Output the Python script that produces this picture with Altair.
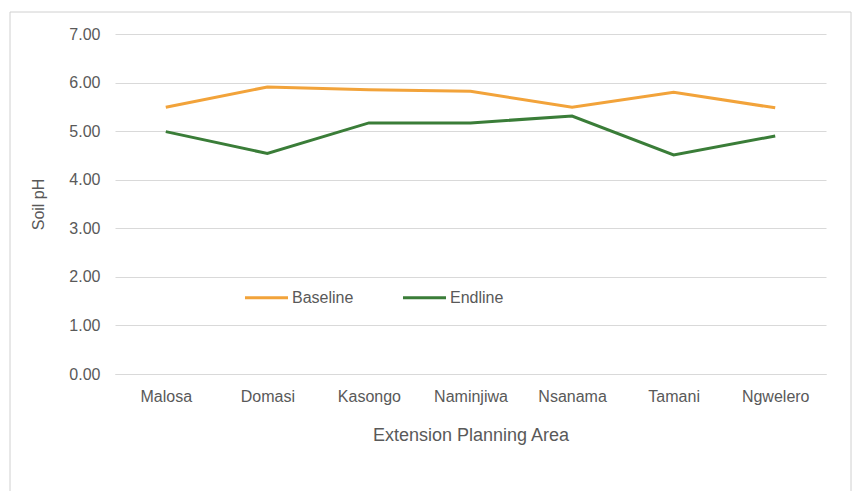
import altair as alt
import pandas as pd

areas = ["Malosa", "Domasi", "Kasongo", "Naminjiwa", "Nsanama", "Tamani", "Ngwelero"]
baseline = [5.49, 5.91, 5.85, 5.82, 5.49, 5.80, 5.48]
endline = [4.99, 4.54, 5.17, 5.17, 5.31, 4.51, 4.90]
series = ["Baseline", "Endline"]
colors = ["#F2A33A", "#3A7D38"]
y_ticks = [0, 1, 2, 3, 4, 5, 6, 7]

rows = []
for a, b, e in zip(areas, baseline, endline):
    rows.append({"area": a, "series": "Baseline", "ph": b})
    rows.append({"area": a, "series": "Endline", "ph": e})
df = pd.DataFrame(rows)

FONT = "Liberation Sans"
W, H = 711, 340

border = alt.Chart(pd.DataFrame({"k": [0]})).mark_rect(
    fillOpacity=0, stroke="#D0D0D0", strokeWidth=1
).encode(
    x=alt.value(-105), x2=alt.value(736), y=alt.value(-22), y2=alt.value(470)
)

lines = alt.Chart(df).mark_line(strokeWidth=3).encode(
    x=alt.X("area:N", sort=areas, title="Extension Planning Area",
            scale=alt.Scale(paddingInner=0, paddingOuter=0.5),
            axis=alt.Axis(labelAngle=0, ticks=False, domain=True, domainColor="#D9D9D9",
                          labelPadding=14, titlePadding=22, labelFontSize=16,
                          titleFontSize=18, titleFontWeight="normal",
                          labelColor="#595959", titleColor="#595959",
                          grid=False)),
    y=alt.Y("ph:Q", title="Soil pH",
            scale=alt.Scale(domain=[0, 7], nice=False),
            axis=alt.Axis(values=y_ticks, format=".2f", ticks=False, domain=False,
                          gridColor="#D9D9D9", gridWidth=1.2, labelPadding=15,
                          labelFontSize=16, titleFontSize=16, titlePadding=22,
                          titleFontWeight="normal",
                          labelColor="#595959", titleColor="#595959")),
    color=alt.Color("series:N", sort=series,
                    scale=alt.Scale(domain=series, range=colors),
                    legend=alt.Legend(title=None, orient="none", direction="horizontal",
                                      legendX=128, legendY=240, symbolType="stroke",
                                      symbolSize=1850, symbolStrokeWidth=3,
                                      labelFontSize=16, labelColor="#595959",
                                      columnPadding=42, labelOffset=2, labelFont=FONT)),
)

chart = alt.layer(border, lines).properties(
    width=W, height=H,
    autosize=alt.AutoSizeParams(type="none"),
    padding={"left": 115, "top": 34, "right": 33, "bottom": 117},
    background="#FFFFFF",
).configure(font=FONT).configure_view(stroke=None)

chart.save("out.html", embed_options={"renderer": "svg", "actions": False})
